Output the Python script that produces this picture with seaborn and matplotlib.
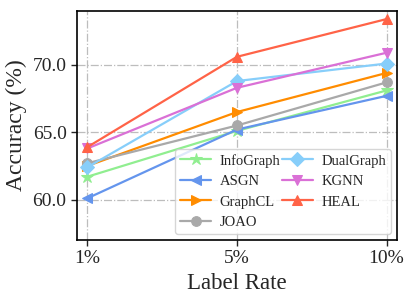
import seaborn as sns
import matplotlib.pyplot as plt
import pandas as pd

label_rates = ['1%', '5%', '10%']
infograph = [61.7, 65.1, 68.1]
asgn = [60.1, 65.2, 67.7]
graphcl = [62.5, 66.5, 69.4]
joao = [62.7, 65.5, 68.7]
dualgraph = [62.4, 68.8, 70.1]
kgnn = [63.8, 68.3, 70.9]
heal = [63.9, 70.6, 73.4]

methods = ['InfoGraph', 'ASGN', 'GraphCL', 'JOAO', 'DualGraph', 'KGNN', 'HEAL']
values = [infograph, asgn, graphcl, joao, dualgraph, kgnn, heal]
colors = ['#90EE90', '#6495ED', '#FF8C00', '#A9A9A9', '#87CEFA', '#DA70D6', '#FF6347']
markers = ['*', '<', '>', 'o', 'D', 'v', '^']

sns.set_theme(style='ticks')
plt.rcParams['font.family'] = ['Liberation Serif', 'DejaVu Serif']

fig = plt.figure(figsize=(4.15, 3.02), dpi=100)
ax = fig.add_axes([0.1855, 0.2053, 0.7711, 0.7583])

for name, vals, c, m in zip(methods, values, colors, markers):
    df = pd.DataFrame({'rate': label_rates, 'acc': vals})
    sns.lineplot(
        data=df
        , x='rate'
        , y='acc'
        , color=c
        , marker=m
        , markersize=7 if m != '*' else 9
        , markeredgecolor=c
        , linewidth=1.6
        , label=name
        , ax=ax
    )

ax.grid(visible=True, linestyle='-.', color='#bdbdbd', linewidth=0.9)
ax.set_xlim(-0.07, 2.07)
ax.set_ylim(57.0, 74.0)
ax.set_yticks([60, 65, 70])
ax.set_yticklabels(['60.0', '65.0', '70.0'])
ax.set_xlabel('Label Rate', fontsize=16.5)
ax.set_ylabel('Accuracy (%)', fontsize=17)
ax.tick_params(labelsize=14, direction='out', length=4, width=1)
for s in ax.spines.values():
    s.set_color('black')
    s.set_linewidth(1.2)

ax.legend(
    ncol=2
    , loc='lower right'
    , fontsize=10.5
    , framealpha=0.8
    , handlelength=2.1
    , columnspacing=0.1
    , labelspacing=0.5
    , handletextpad=0.6
    , borderpad=0.35
    , borderaxespad=0.4
)

fig.savefig('out.png', dpi=100)
